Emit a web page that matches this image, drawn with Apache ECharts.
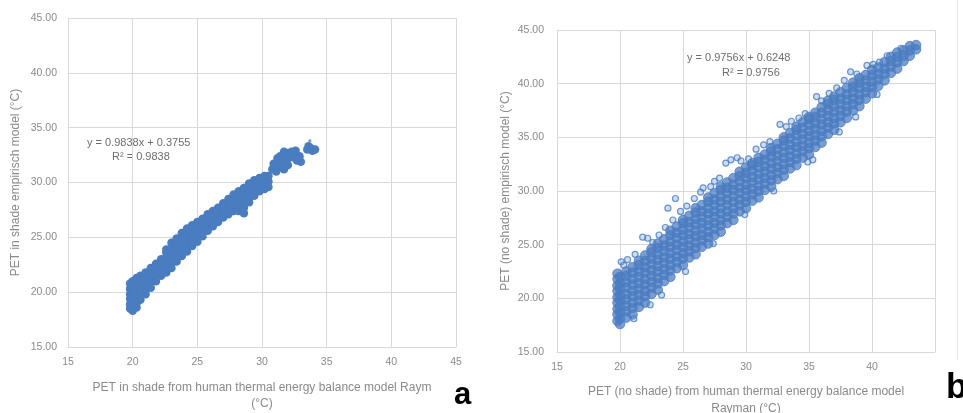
<!DOCTYPE html>
<html>
<head>
<meta charset="utf-8">
<script src="https://cdn.jsdelivr.net/npm/echarts@6/dist/echarts.min.js"></script>
<style>
html,body{margin:0;padding:0;background:#fff;}
#chart{width:963px;height:413px;}
</style>
</head>
<body>
<div id="chart"></div>
<script>
// ---------- Panel a: PET in shade ----------
const aColX = [19.8, 20.0, 20.3, 20.6, 21.0, 21.4, 21.8, 22.2, 22.6, 23.0, 23.4, 23.8, 24.2, 24.6, 25.0, 25.4, 25.8, 26.2, 26.6, 27.0, 27.4, 27.8, 28.2, 28.6, 29.0, 29.4, 29.8, 30.2, 30.5];
const aColY = [
  [18.5, 18.9, 19.4, 19.8, 20.3, 20.8],
  [18.3, 18.7, 19.2, 19.6, 20.1, 20.5, 21.0],
  [18.6, 19.0, 19.5, 19.9, 20.4, 20.8, 21.3],
  [19.3, 19.7, 20.2, 20.6, 21.1, 21.5],
  [19.8, 20.2, 20.7, 21.1, 21.6, 21.8],
  [20.4, 20.9, 21.3, 21.8, 22.2],
  [21.0, 21.4, 21.9, 22.3, 22.6],
  [21.5, 21.9, 22.4, 22.8, 23.0],
  [21.8, 22.2, 22.7, 23.1, 23.6, 23.9],
  [22.2, 22.6, 23.1, 23.5, 24.0, 24.5],
  [22.8, 23.2, 23.7, 24.1, 24.6, 24.9],
  [23.3, 23.7, 24.2, 24.6, 25.1, 25.4],
  [23.7, 24.1, 24.6, 25.0, 25.5, 25.8],
  [24.2, 24.6, 25.1, 25.5, 26.0, 26.1],
  [24.6, 25.0, 25.5, 25.9, 26.4],
  [25.1, 25.5, 26.0, 26.4, 26.7],
  [25.6, 26.0, 26.5, 26.9, 27.1],
  [26.0, 26.4, 26.9, 27.4],
  [26.4, 26.8, 27.3, 27.7],
  [26.8, 27.2, 27.7, 28.1],
  [27.1, 27.5, 28.0, 28.5],
  [27.4, 27.8, 28.3, 28.9],
  [27.4, 27.8, 28.3, 28.7, 29.2],
  [27.2, 27.7, 28.2, 28.6, 29.1, 29.5],
  [28.2, 28.6, 29.1, 29.5, 29.9],
  [28.8, 29.2, 29.7, 30.2],
  [29.2, 29.6, 30.1, 30.4],
  [29.4, 29.8, 30.3, 30.6],
  [29.6, 30.1, 30.6]
];
const aClusters = [
  [30.8, 31.2], [30.9, 31.7], [31.1, 31.0], [31.1, 31.6], [31.2, 32.2],
  [31.4, 31.4], [31.4, 31.9], [31.4, 32.4], [31.7, 31.2], [31.7, 31.8], [31.7, 32.4], [31.7, 32.8],
  [32.0, 32.2], [32.0, 32.7], [32.0, 31.6],
  [32.3, 32.8], [32.4, 32.3], [32.7, 32.0], [33.0, 31.9], [32.9, 32.4], [32.6, 32.9],
  [33.5, 33.0], [33.8, 33.1], [34.1, 33.0], [33.6, 33.3], [33.9, 32.9]
];
const aStray = [[33.7, 33.8]];
const aEquation = ['y = 0.9838x + 0.3755', 'R² = 0.9838'];

// ---------- Panel b: PET no shade ----------
const bColX = [19.8, 20.0, 20.5, 21.0, 21.5, 22.0, 22.5, 23.0, 23.5, 24.0, 24.5, 25.0, 25.5, 26.0, 26.5, 27.0, 27.5, 28.0, 28.5, 29.0, 29.5, 30.0, 30.5, 31.0, 31.5, 32.0, 32.5, 33.0, 33.5, 34.0, 34.5, 35.0, 35.5, 36.0, 36.5, 37.0, 37.5, 38.0, 38.5, 39.0, 39.5, 40.0, 40.5, 41.0, 41.5, 42.0, 42.5, 43.0, 43.5];
const bColY = [
  [17.9, 18.5, 19.0, 19.6, 20.1, 20.7, 21.2, 21.8, 22.3],
  [17.6, 18.1, 18.7, 19.2, 19.8, 20.3, 20.9, 21.4, 22.0],
  [18.2, 18.8, 19.3, 19.9, 20.4, 21.0, 21.5, 22.1, 22.5],
  [18.5, 19.1, 19.6, 20.2, 20.7, 21.3, 21.8, 22.4, 22.9],
  [19.2, 19.8, 20.3, 20.9, 21.4, 22.0, 22.5, 23.1, 23.5],
  [19.6, 20.2, 20.7, 21.3, 21.8, 22.4, 22.9, 23.5, 24.0],
  [20.4, 21.0, 21.5, 22.1, 22.6, 23.2, 23.7, 24.3, 24.6],
  [20.8, 21.4, 21.9, 22.5, 23.0, 23.6, 24.1, 24.7, 25.1],
  [21.6, 22.2, 22.7, 23.3, 23.8, 24.4, 24.9, 25.5],
  [22.0, 22.6, 23.1, 23.7, 24.2, 24.8, 25.3, 25.9, 26.3],
  [22.8, 23.4, 23.9, 24.5, 25.0, 25.6, 26.1, 26.7],
  [23.1, 23.7, 24.2, 24.8, 25.3, 25.9, 26.4, 27.0, 27.3],
  [23.8, 24.4, 24.9, 25.5, 26.0, 26.6, 27.1, 27.7],
  [24.1, 24.7, 25.2, 25.8, 26.3, 26.9, 27.4, 28.0, 28.4],
  [24.8, 25.4, 25.9, 26.5, 27.0, 27.6, 28.1, 28.7],
  [25.1, 25.7, 26.2, 26.8, 27.3, 27.9, 28.4, 29.0, 29.4],
  [25.9, 26.5, 27.0, 27.6, 28.1, 28.7, 29.2, 29.8],
  [26.2, 26.8, 27.3, 27.9, 28.4, 29.0, 29.5, 30.1, 30.4],
  [27.0, 27.6, 28.1, 28.7, 29.2, 29.8, 30.3, 30.8],
  [27.3, 27.9, 28.4, 29.0, 29.5, 30.1, 30.6, 31.2],
  [28.1, 28.7, 29.2, 29.8, 30.3, 30.9, 31.4, 31.8],
  [28.4, 29.0, 29.5, 30.1, 30.6, 31.2, 31.7, 32.2],
  [29.1, 29.7, 30.2, 30.8, 31.3, 31.9, 32.4, 32.6],
  [29.4, 30.0, 30.5, 31.1, 31.6, 32.2, 32.7, 33.1],
  [30.1, 30.7, 31.2, 31.8, 32.3, 32.9, 33.4],
  [30.4, 31.0, 31.5, 32.1, 32.6, 33.2, 33.7, 34.0],
  [31.1, 31.7, 32.2, 32.8, 33.3, 33.9, 34.4],
  [31.4, 32.0, 32.5, 33.1, 33.6, 34.2, 34.7, 35.0],
  [32.1, 32.7, 33.2, 33.8, 34.3, 34.9, 35.4],
  [32.4, 33.0, 33.5, 34.1, 34.6, 35.2, 35.7, 36.0],
  [33.1, 33.7, 34.2, 34.8, 35.3, 35.9, 36.4],
  [33.4, 34.0, 34.5, 35.1, 35.6, 36.2, 36.7, 36.9],
  [34.1, 34.7, 35.2, 35.8, 36.3, 36.9, 37.3],
  [34.5, 35.1, 35.6, 36.2, 36.7, 37.3, 37.8],
  [35.3, 35.9, 36.4, 37.0, 37.5, 38.1, 38.4],
  [35.7, 36.3, 36.8, 37.4, 37.9, 38.5, 38.8],
  [36.4, 37.0, 37.5, 38.1, 38.6, 39.2],
  [36.8, 37.4, 37.9, 38.5, 39.0, 39.6],
  [37.5, 38.1, 38.6, 39.2, 39.7, 40.1],
  [37.9, 38.5, 39.0, 39.6, 40.1, 40.5],
  [38.6, 39.2, 39.7, 40.3, 40.8],
  [39.1, 39.7, 40.2, 40.8, 41.3],
  [39.8, 40.4, 40.9, 41.5],
  [40.3, 40.9, 41.4, 42.0],
  [41.0, 41.6, 42.1, 42.5],
  [41.4, 42.0, 42.5, 42.9],
  [42.1, 42.6, 43.1],
  [42.6, 43.1, 43.5],
  [43.2, 43.6]
];
const bOutliers = [
  [20.1, 23.4], [20.3, 23.1], [20.6, 23.6], [21.2, 24.1], [21.8, 25.7], [22.2, 25.6], [22.6, 25.2],
  [23.1, 25.9], [23.6, 26.6], [23.8, 28.4], [24.2, 27.3], [24.4, 29.3], [24.8, 28.1], [25.3, 28.6],
  [25.9, 29.3], [26.4, 29.9], [26.6, 30.3], [27.2, 30.4], [27.5, 30.9], [27.9, 31.2], [28.4, 32.6],
  [28.8, 32.9], [29.3, 33.1], [29.6, 32.8], [30.2, 33.0], [30.8, 33.9], [31.4, 34.3], [31.9, 34.6],
  [32.7, 36.2], [33.2, 36.0], [33.6, 36.5], [34.2, 36.8], [34.7, 37.2], [35.6, 38.8], [36.0, 38.4],
  [36.6, 39.1], [37.2, 39.6], [37.8, 40.3], [38.3, 41.1], [38.8, 40.9], [39.6, 41.7], [40.1, 41.8],
  [40.6, 42.0], [41.2, 42.6], [42.3, 43.3],
  [21.1, 18.1], [22.4, 19.4], [23.3, 20.3], [25.2, 22.5], [27.4, 25.1], [29.9, 27.8], [32.2, 30.0],
  [34.9, 32.7], [35.3, 32.9], [37.4, 35.5], [38.7, 36.9], [40.4, 39.0]
];
const bEquation = ['y = 0.9756x + 0.6248', 'R² = 0.9756'];

// ---------- Axis ticks ----------
const axisMin = 15, axisMax = 45, axisStep = 5;

function columnsToPoints(xs, ys) {
  const pts = [];
  xs.forEach((x, i) => ys[i].forEach(y => pts.push([x, y])));
  return pts;
}
const aPoints = columnsToPoints(aColX, aColY).concat(aClusters);
const bCore = columnsToPoints(bColX, bColY);

const FONT = 'Liberation Sans';
const GRID_C = '#d9d9d9';
const LABEL_C = '#8a8a8a';
const BLUE = '#4a7cc0';

function xAxisCfg(gridIndex, name, gap, lh, hideLast) {
  return {
    type: 'value', gridIndex, min: axisMin, max: axisMax, interval: axisStep,
    name, nameLocation: 'middle', nameGap: gap,
    nameTextStyle: { color: LABEL_C, fontFamily: FONT, fontSize: 12, lineHeight: lh },
    axisLine: { show: true, lineStyle: { color: GRID_C, width: 1 } },
    axisTick: { show: false },
    splitLine: { show: true, lineStyle: { color: GRID_C, width: 1 } },
    axisLabel: { color: LABEL_C, fontFamily: FONT, fontSize: 10.5, margin: 10,
      formatter: v => (hideLast && v === axisMax) ? '' : String(v) }
  };
}
function yAxisCfg(gridIndex, name, gap, margin) {
  return {
    type: 'value', gridIndex, min: axisMin, max: axisMax, interval: axisStep,
    name, nameLocation: 'middle', nameGap: gap,
    nameTextStyle: { color: LABEL_C, fontFamily: FONT, fontSize: 12 },
    axisLine: { show: true, lineStyle: { color: GRID_C, width: 1 } },
    axisTick: { show: false },
    splitLine: { show: true, lineStyle: { color: GRID_C, width: 1 } },
    axisLabel: { color: LABEL_C, fontFamily: FONT, fontSize: 10.5, margin,
      formatter: v => v.toFixed(2) }
  };
}

const chart = echarts.init(document.getElementById('chart'), null, { renderer: 'canvas' });
chart.setOption({
  backgroundColor: '#ffffff',
  animation: false,
  grid: [
    { left: 68, top: 18, width: 388, height: 329, containLabel: false, outerBoundsMode: 'none' },
    { left: 557, top: 30, width: 378, height: 322, containLabel: false, outerBoundsMode: 'none' }
  ],
  xAxis: [
    xAxisCfg(0, 'PET in shade from human thermal energy balance model Raym\n(°C)', 33, 16, false),
    xAxisCfg(1, 'PET (no shade) from human thermal energy balance model\nRayman (°C)', 31, 17, true)
  ],
  yAxis: [
    yAxisCfg(0, 'PET in shade empirisch model (°C)', 46, 11),
    yAxisCfg(1, 'PET (no shade) empirisch model (°C)', 45, 13)
  ],
  series: [
    { type: 'scatter', xAxisIndex: 0, yAxisIndex: 0, data: aPoints, symbol: 'circle', symbolSize: 8.5,
      itemStyle: { color: BLUE, opacity: 1 }, silent: true },
    { type: 'scatter', xAxisIndex: 0, yAxisIndex: 0, data: aStray, symbol: 'circle', symbolSize: 3,
      itemStyle: { color: BLUE }, silent: true },
    { type: 'scatter', xAxisIndex: 1, yAxisIndex: 1, data: bOutliers, symbol: 'circle', symbolSize: 6,
      itemStyle: { color: 'rgba(120,160,215,0.45)', borderColor: BLUE, borderWidth: 1.2 }, silent: true },
    { type: 'scatter', xAxisIndex: 1, yAxisIndex: 1, data: bCore, symbol: 'circle', symbolSize: 9.5,
      itemStyle: { color: 'rgba(74,124,192,0.92)', borderColor: BLUE, borderWidth: 1 }, silent: true }
  ],
  graphic: [
    { type: 'text', left: 87, top: 137, style: { text: aEquation[0], fill: '#6d6d6d', font: '11px ' + FONT } },
    { type: 'text', left: 112, top: 151, style: { text: aEquation[1], fill: '#6d6d6d', font: '11px ' + FONT } },
    { type: 'text', left: 687, top: 52, style: { text: bEquation[0], fill: '#6d6d6d', font: '11px ' + FONT } },
    { type: 'text', left: 722, top: 67, style: { text: bEquation[1], fill: '#6d6d6d', font: '11px ' + FONT } },
    { type: 'text', left: 454, top: 380, style: { text: 'a', fill: '#000', font: 'bold 31px ' + FONT } },
    { type: 'text', left: 946, top: 371, style: { text: 'b', fill: '#000', font: 'bold 35px ' + FONT } },
    { type: 'line', shape: { x1: 957.5, y1: 0, x2: 957.5, y2: 360 }, style: { stroke: '#e6e6e6', lineWidth: 1 } }
  ]
});
</script>
</body>
</html>
